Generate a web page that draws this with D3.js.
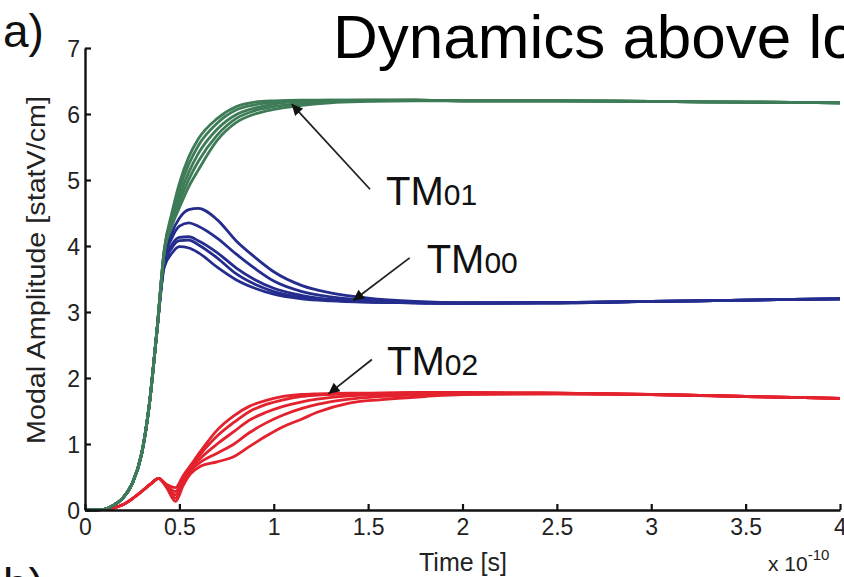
<!DOCTYPE html>
<html><head><meta charset="utf-8">
<script src="https://cdn.jsdelivr.net/npm/d3@7"></script>
<style>
html,body{margin:0;padding:0;background:#fff;overflow:hidden}
svg{display:block}
text{font-family:"Liberation Sans Narrow","Liberation Sans",Arial,sans-serif}
</style></head><body>
<svg id="chart" width="844" height="577"></svg>
<script>
// ---------- data (time in units of 1e-10 s) ----------
const tGB = [0,0.1,0.15,0.2,0.25,0.3,0.34,0.38,0.42,0.46,0.5,0.55,0.6,0.7,0.8,0.9,1.0,1.15,1.3,1.5,1.75,2.0,2.5,3.0,3.5,4.0];
const tm01_1 = [0,0.01,0.07,0.18,0.4,0.85,1.58,2.68,3.95,4.5,4.95,5.35,5.62,5.93,6.11,6.18,6.2,6.21,6.21,6.21,6.21,6.2,6.2,6.19,6.18,6.17];
const tm01_2 = [0,0.01,0.07,0.18,0.4,0.85,1.58,2.68,3.94,4.45,4.86,5.24,5.52,5.86,6.06,6.14,6.18,6.2,6.21,6.21,6.21,6.2,6.2,6.19,6.18,6.17];
const tm01_3 = [0,0.01,0.07,0.18,0.4,0.85,1.58,2.68,3.92,4.4,4.76,5.12,5.4,5.77,5.99,6.09,6.15,6.19,6.2,6.21,6.21,6.2,6.2,6.19,6.18,6.17];
const tm01_4 = [0,0.01,0.07,0.18,0.4,0.85,1.58,2.68,3.91,4.35,4.67,5.01,5.28,5.68,5.93,6.05,6.11,6.16,6.19,6.2,6.21,6.2,6.2,6.19,6.18,6.17];
const tm01_5 = [0,0.01,0.07,0.18,0.4,0.85,1.58,2.68,3.9,4.3,4.58,4.9,5.15,5.6,5.87,6.0,6.07,6.13,6.17,6.19,6.2,6.2,6.2,6.19,6.18,6.17];

const tm00_1 = [0,0.01,0.07,0.18,0.4,0.85,1.58,2.68,3.85,4.2,4.42,4.55,4.57,4.4,4.08,3.83,3.61,3.4,3.29,3.21,3.16,3.14,3.14,3.16,3.18,3.2];
const tm00_2 = [0,0.01,0.07,0.18,0.4,0.85,1.58,2.68,3.8,4.12,4.3,4.35,4.3,4.12,3.88,3.66,3.47,3.31,3.23,3.18,3.15,3.14,3.14,3.16,3.18,3.2];
const tm00_3 = [0,0.01,0.07,0.18,0.4,0.85,1.58,2.68,3.76,4.02,4.13,4.14,4.08,3.9,3.67,3.49,3.36,3.25,3.19,3.16,3.14,3.13,3.14,3.16,3.18,3.2];
const tm00_4 = [0,0.01,0.07,0.18,0.4,0.85,1.58,2.68,3.72,3.97,4.08,4.09,4.02,3.82,3.58,3.42,3.31,3.22,3.18,3.15,3.14,3.13,3.14,3.16,3.18,3.2];
const tm00_5 = [0,0.01,0.07,0.18,0.4,0.85,1.58,2.68,3.68,3.89,3.99,3.97,3.9,3.68,3.49,3.36,3.27,3.2,3.17,3.15,3.14,3.13,3.14,3.16,3.18,3.2];

const tRed = [0,0.1,0.15,0.2,0.25,0.3,0.35,0.39,0.43,0.48,0.52,0.56,0.61,0.7,0.79,0.87,0.96,1.05,1.15,1.23,1.4,1.56,1.8,2.0,2.5,3.0,3.5,4.0];
const tm02_1 = [0,0.01,0.03,0.08,0.17,0.28,0.4,0.48,0.39,0.34,0.52,0.68,0.88,1.21,1.43,1.57,1.66,1.72,1.75,1.76,1.77,1.77,1.78,1.78,1.77,1.75,1.72,1.69];
const tm02_2 = [0,0.01,0.03,0.08,0.17,0.28,0.4,0.48,0.38,0.28,0.49,0.66,0.84,1.12,1.33,1.49,1.6,1.67,1.72,1.74,1.76,1.77,1.78,1.78,1.77,1.75,1.72,1.69];
const tm02_3 = [0,0.01,0.03,0.08,0.17,0.28,0.4,0.48,0.37,0.23,0.45,0.63,0.78,1.0,1.19,1.36,1.48,1.57,1.64,1.68,1.73,1.75,1.77,1.77,1.77,1.75,1.72,1.69];
const tm02_4 = [0,0.01,0.03,0.08,0.17,0.28,0.4,0.48,0.36,0.18,0.41,0.6,0.72,0.86,1.0,1.17,1.32,1.44,1.54,1.6,1.68,1.72,1.75,1.76,1.76,1.75,1.72,1.69];
const tm02_5 = [0,0.01,0.03,0.08,0.17,0.28,0.4,0.48,0.35,0.13,0.37,0.55,0.66,0.73,0.81,0.96,1.12,1.26,1.38,1.48,1.62,1.67,1.72,1.75,1.76,1.75,1.72,1.69];

const xTicks = [0,0.5,1,1.5,2,2.5,3,3.5,4];
const xTickLabels = ["0","0.5","1","1.5","2","2.5","3","3.5","4"];
const yTicks = [0,1,2,3,4,5,6,7];
const yTickLabels = ["0","1","2","3","4","5","6","7"];

// drawn in this order (green on top)
const groups = [
  {name:"TM02", color:"#e3222e", t:tRed, series:[tm02_1,tm02_2,tm02_3,tm02_4,tm02_5]},
  {name:"TM00", color:"#242d8e", t:tGB, series:[tm00_1,tm00_2,tm00_3,tm00_4,tm00_5]},
  {name:"TM01", color:"#3e7b57", t:tGB, series:[tm01_1,tm01_2,tm01_3,tm01_4,tm01_5]}
];
// annotation: label position, arrow start and tip (data units)
const annotations = [
  {main:"TM", sub:"01", lx:1.595, ly:4.62, from:[1.51,4.86], to:[1.095,6.15]},
  {main:"TM", sub:"00", lx:1.81, ly:3.59, from:[1.72,3.82], to:[1.42,3.17]},
  {main:"TM", sub:"02", lx:1.6, ly:2.05, from:[1.52,2.28], to:[1.29,1.76]}
];

// ---------- layout ----------
const svg = d3.select("#chart");
const x = d3.scaleLinear().domain([0,4]).range([85,840]);
const y = d3.scaleLinear().domain([0,7]).range([510,48]);

const defs = svg.append("defs");
defs.append("clipPath").attr("id","clip")
  .append("rect").attr("x",85).attr("y",40).attr("width",760).attr("height",472);
defs.append("marker").attr("id","arr")
  .attr("viewBox","0 0 10 10").attr("refX",10).attr("refY",5)
  .attr("markerWidth",15).attr("markerHeight",11).attr("markerUnits","userSpaceOnUse")
  .attr("orient","auto")
  .append("path").attr("d","M0,0 L10,5 L0,10 z").attr("fill","#111");

// lines
const plot = svg.append("g").attr("clip-path","url(#clip)");
groups.forEach(g=>{
  const line = d3.line().x((d,i)=>x(g.t[i])).y(d=>y(d)).curve(d3.curveMonotoneX);
  g.series.forEach(s=>{
    plot.append("path").attr("d",line(s)).attr("fill","none")
      .attr("stroke",g.color).attr("stroke-width",2.8).attr("stroke-linejoin","round");
  });
});

// axes
const yAxis = d3.axisLeft(y).tickValues(yTicks).tickFormat((d,i)=>yTickLabels[i])
  .tickSizeInner(-6).tickSizeOuter(0).tickPadding(5);
const gy = svg.append("g").attr("transform","translate(85,0)").call(yAxis);
const xAxis = d3.axisBottom(x).tickValues(xTicks).tickFormat((d,i)=>xTickLabels[i])
  .tickSizeInner(-6).tickSizeOuter(0).tickPadding(8);
const gx = svg.append("g").attr("transform","translate(0,510)").call(xAxis);
[gx,gy].forEach(g=>{
  g.select(".domain").attr("stroke","#111").attr("stroke-width",2.4);
  g.selectAll(".tick line").attr("stroke","#111").attr("stroke-width",2.2);
  g.selectAll(".tick text").attr("fill","#222").attr("font-size",23)
    .attr("font-family","'Liberation Sans Narrow','Liberation Sans',sans-serif");
});
gy.selectAll(".tick text").attr("dy","0.36em");
gx.selectAll(".tick text").attr("dy","0.72em");

// axis titles
svg.append("text").attr("x",463).attr("y",571).attr("text-anchor","middle")
  .attr("font-size",25).attr("fill","#222").text("Time [s]");
svg.append("text").attr("transform","translate(45,270) rotate(-90)").attr("text-anchor","middle")
  .attr("font-size",26).attr("fill","#222")
  .attr("textLength",348).attr("lengthAdjust","spacingAndGlyphs")
  .text("Modal Amplitude [statV/cm]");
const ex = svg.append("text").attr("x",768).attr("y",571).attr("font-size",21).attr("fill","#222");
ex.append("tspan").text("x 10");
ex.append("tspan").attr("dy",-11).attr("font-size",15).text("-10");

// panel labels and title
svg.append("text").attr("x",3).attr("y",47).attr("font-size",46).attr("fill","#111").text("a)");
svg.append("text").attr("x",3).attr("y",601).attr("font-size",46).attr("fill","#111").text("b)");
svg.append("text").attr("x",333).attr("y",58).attr("font-size",62).attr("fill","#000")
  .attr("font-family","'Liberation Sans',Arial,sans-serif")
  .text("Dynamics above loss");

// annotations
annotations.forEach(a=>{
  svg.append("line").attr("x1",x(a.from[0])).attr("y1",y(a.from[1]))
    .attr("x2",x(a.to[0])).attr("y2",y(a.to[1]))
    .attr("stroke","#222").attr("stroke-width",1.8).attr("marker-end","url(#arr)");
  const t = svg.append("text").attr("x",x(a.lx)).attr("y",y(a.ly)).attr("fill","#111");
  t.append("tspan").attr("font-size",40).text(a.main);
  t.append("tspan").attr("font-size",30).text(a.sub);
});
</script></body></html>
